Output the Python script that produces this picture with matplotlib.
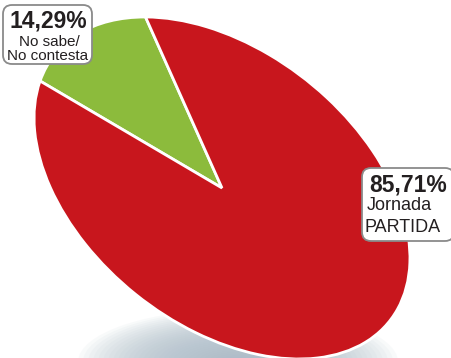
import matplotlib.pyplot as plt
from matplotlib.patches import FancyBboxPatch, Ellipse
from matplotlib.transforms import Affine2D

# data
labels = [["No sabe/", "No contesta"], ["Jornada", "PARTIDA"]]
values = [14.29, 85.71]
pct_text = ["14,29%", "85,71%"]
colors = ["#8cbb3c", "#c8161d"]

FONT = ["Liberation Sans", "DejaVu Sans"]
INK = "#231f20"
W, H = 451, 358

fig = plt.figure(figsize=(W / 100, H / 100), dpi=100, facecolor="white")
ax = fig.add_axes([0, 0, 1, 1])

# soft shadow under the pie
for i in range(30):
    f = 1 - i / 30
    ax.add_patch(Ellipse((238, -4), 300 * f + 20, 100 * f + 6, color="#adbcc9",
                         alpha=0.075, lw=0, zorder=0))

wedges, _ = ax.pie(values, colors=colors, startangle=141, counterclock=True,
                   wedgeprops=dict(edgecolor="white", linewidth=2))

# tilt the pie into a rotated ellipse
tilt = Affine2D().scale(214, 137).rotate_deg(-38.5).translate(222, 170)
for w in wedges:
    w.set_transform(tilt + ax.transData)
    w.set_zorder(2)

ax.set_aspect("auto")
ax.set_xlim(0, W)
ax.set_ylim(0, H)
ax.axis("off")


def label_box(x0, y0, w, h):
    ax.add_patch(FancyBboxPatch((x0, y0), w, h, boxstyle="round,pad=0,rounding_size=9",
                                fc="white", ec="#8a8a8a", lw=1.3, zorder=5))


# left label (centred lines)
label_box(3, 294, 89, 59)
ax.text(48, 337, pct_text[0], ha="center", va="center", fontsize=16.5, fontweight="bold",
        color=INK, family=FONT, zorder=6)
ax.text(49, 316, labels[0][0], ha="center", va="center", fontsize=11, color=INK,
        family=FONT, zorder=6)
ax.text(48, 302, labels[0][1], ha="center", va="center", fontsize=11, color=INK,
        family=FONT, zorder=6)

# right label (left aligned lines)
label_box(362, 117, 92, 73)
ax.text(369, 173, pct_text[1], ha="left", va="center", fontsize=16.5, fontweight="bold",
        color=INK, family=FONT, zorder=6)
ax.text(367, 152, labels[1][0], ha="left", va="center", fontsize=13, color=INK,
        family=FONT, zorder=6)
ax.text(365, 131, labels[1][1], ha="left", va="center", fontsize=13, color=INK,
        family=FONT, zorder=6)

fig.savefig("out.png", dpi=100)
